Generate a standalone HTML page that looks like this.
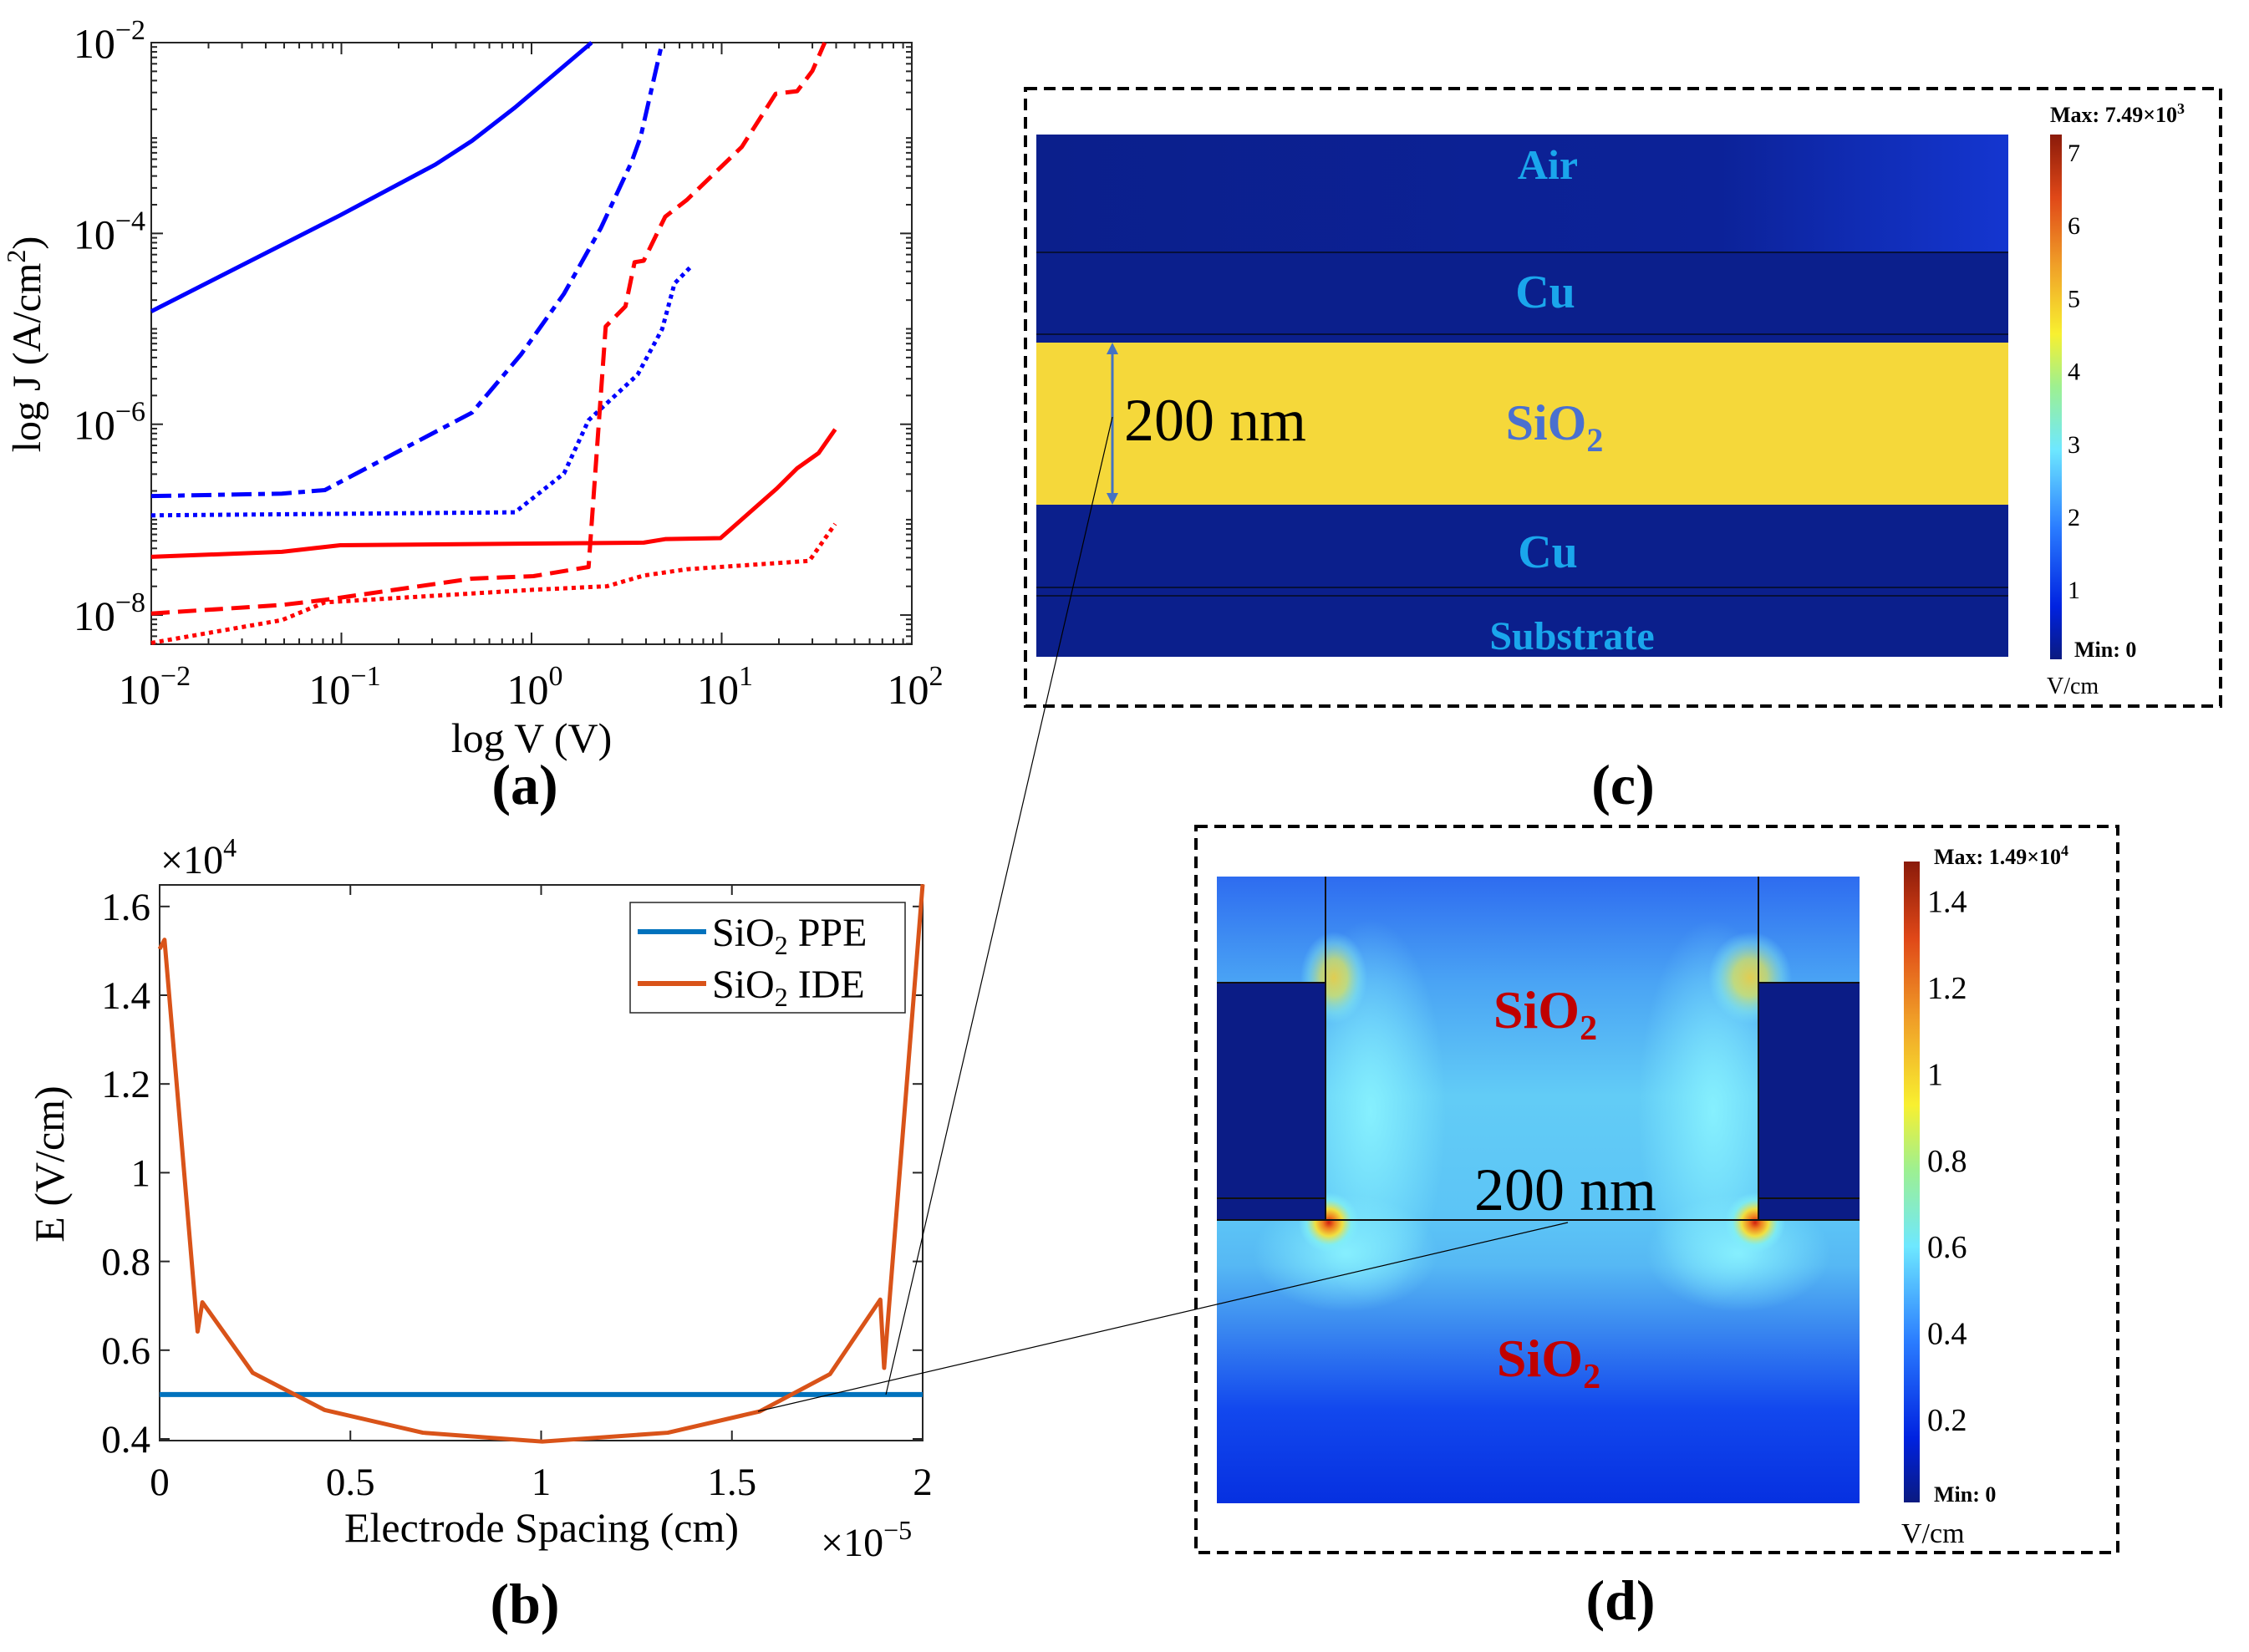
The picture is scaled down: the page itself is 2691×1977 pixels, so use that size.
<!DOCTYPE html>
<html><head><meta charset="utf-8"><style>
html,body{margin:0;padding:0;background:#fff}
svg{display:block}
text{font-family:"Liberation Serif",serif}
</style></head><body>
<svg id="fig" width="2691" height="1977" viewBox="0 0 2691 1977" xmlns="http://www.w3.org/2000/svg">
<defs>
<linearGradient id="cbar" x1="0" y1="1" x2="0" y2="0">
<stop offset="0" stop-color="#0a1a80"/><stop offset="0.1" stop-color="#0022e0"/><stop offset="0.25" stop-color="#2a7cff"/>
<stop offset="0.4" stop-color="#6ee8ff"/><stop offset="0.52" stop-color="#9ef090"/><stop offset="0.62" stop-color="#f8f030"/>
<stop offset="0.75" stop-color="#f0a028"/><stop offset="0.88" stop-color="#e04818"/><stop offset="1" stop-color="#8a1a0a"/>
</linearGradient>
<linearGradient id="airg" x1="0" y1="0" x2="1" y2="0">
<stop offset="0" stop-color="#0b1f8c"/><stop offset="0.7" stop-color="#0c2298"/><stop offset="1" stop-color="#1436d0"/>
</linearGradient>
<linearGradient id="dbg" x1="0" y1="0" x2="0" y2="1">
<stop offset="0" stop-color="#2e6cf0"/><stop offset="0.17" stop-color="#4aa4f4"/><stop offset="0.35" stop-color="#62ccf6"/>
<stop offset="0.55" stop-color="#5cc4f6"/><stop offset="0.62" stop-color="#56b8f4"/><stop offset="0.72" stop-color="#3a88f0"/>
<stop offset="0.85" stop-color="#1248ee"/><stop offset="1" stop-color="#0630e0"/>
</linearGradient>
<radialGradient id="hot"><stop offset="0" stop-color="#d02010"/><stop offset="0.2" stop-color="#f08020"/><stop offset="0.45" stop-color="#f0e040"/><stop offset="0.75" stop-color="#80f0f0" stop-opacity="0.7"/><stop offset="1" stop-color="#80f0ff" stop-opacity="0"/></radialGradient>
<radialGradient id="warm"><stop offset="0" stop-color="#f0d040" stop-opacity="0.9"/><stop offset="0.4" stop-color="#e8e850" stop-opacity="0.7"/><stop offset="0.75" stop-color="#90f0e0" stop-opacity="0.4"/><stop offset="1" stop-color="#80f0ff" stop-opacity="0"/></radialGradient>
<radialGradient id="cy"><stop offset="0" stop-color="#8af4ff" stop-opacity="0.9"/><stop offset="1" stop-color="#8af4ff" stop-opacity="0"/></radialGradient>
</defs>

<!-- Panel (a) -->
<g id="pa">
<rect x="181" y="51" width="910" height="720" fill="#fff" stroke="#262626" stroke-width="2"/>
<g id="pa-ticks"></g>
<g id="pa-lines"></g>
<text x="48" y="412" font-size="48" text-anchor="middle" transform="rotate(-90 48 412)">log J (A/cm<tspan dy="-18" font-size="32">2</tspan><tspan dy="18">)</tspan></text>
<text x="636" y="900" font-size="50" text-anchor="middle">log V (V)</text>
<text x="628" y="962" font-size="68" font-weight="bold" text-anchor="middle">(a)</text>
</g>

<!-- Panel (b) -->
<g id="pb">
<rect x="191" y="1059" width="913" height="665" fill="#fff" stroke="#262626" stroke-width="2"/>
<g id="pb-ticks"></g>
<g id="pb-lines"></g>
<text x="192" y="1045" font-size="48">×10<tspan dy="-20" font-size="32">4</tspan></text>
<text x="982" y="1862" font-size="48">×10<tspan dy="-20" font-size="32">−5</tspan></text>
<text x="76" y="1393" font-size="50" text-anchor="middle" transform="rotate(-90 76 1393)">E (V/cm)</text>
<text x="648" y="1845" font-size="50" text-anchor="middle">Electrode Spacing (cm)</text>
<text x="628" y="1942" font-size="68" font-weight="bold" text-anchor="middle">(b)</text>
<g>
<rect x="754" y="1080" width="329" height="132" fill="#fff" stroke="#262626" stroke-width="1.5"/>
<line x1="763" y1="1115" x2="845" y2="1115" stroke="#0072bd" stroke-width="6"/>
<text x="852" y="1132" font-size="48">SiO<tspan dy="10" font-size="32">2</tspan><tspan dy="-10"> PPE</tspan></text>
<line x1="763" y1="1177" x2="845" y2="1177" stroke="#d95319" stroke-width="6"/>
<text x="852" y="1194" font-size="48">SiO<tspan dy="10" font-size="32">2</tspan><tspan dy="-10"> IDE</tspan></text>
</g>
</g>

<!-- Panel (c) -->
<g id="pc">
<rect x="1227" y="106" width="1430" height="739" fill="none" stroke="#000" stroke-width="4" stroke-dasharray="14 8"/>
<rect x="1240" y="161" width="1163" height="141" fill="url(#airg)"/>
<rect x="1240" y="302" width="1163" height="108" fill="#0b1f8c"/>
<rect x="1240" y="410" width="1163" height="194" fill="#f5d83a"/>
<rect x="1240" y="604" width="1163" height="182" fill="#0b1f8c"/>
<line x1="1240" y1="302" x2="2403" y2="302" stroke="#06103a" stroke-width="2"/>
<line x1="1240" y1="400" x2="2403" y2="400" stroke="#06103a" stroke-width="2"/>
<line x1="1240" y1="703" x2="2403" y2="703" stroke="#06103a" stroke-width="2"/>
<line x1="1240" y1="713" x2="2403" y2="713" stroke="#06103a" stroke-width="2"/>
<text x="1852" y="214" font-size="50" font-weight="bold" fill="#1aa6ec" text-anchor="middle">Air</text>
<text x="1849" y="368" font-size="56" font-weight="bold" fill="#1aa6ec" text-anchor="middle">Cu</text>
<text x="1860" y="526" font-size="60" font-weight="bold" fill="#4a70d0" text-anchor="middle">SiO<tspan dy="14" font-size="40">2</tspan></text>
<text x="1852" y="679" font-size="56" font-weight="bold" fill="#1aa6ec" text-anchor="middle">Cu</text>
<text x="1881" y="777" font-size="48" font-weight="bold" fill="#1aa6ec" text-anchor="middle">Substrate</text>
<line x1="1331" y1="416" x2="1331" y2="598" stroke="#4472c4" stroke-width="3"/>
<path d="M1324,424 L1331,410 L1338,424 Z M1324,590 L1331,604 L1338,590 Z" fill="#4472c4"/>
<text x="1345" y="527" font-size="72">200 nm</text>
<rect x="2453" y="161" width="14" height="628" fill="url(#cbar)"/>
<g id="pc-cb" font-size="30"></g>
<text x="2453" y="146" font-size="26" font-weight="bold">Max: 7.49×10<tspan dy="-10" font-size="18">3</tspan></text>
<text x="2482" y="786" font-size="26" font-weight="bold">Min: 0</text>
<text x="2449" y="830" font-size="28">V/cm</text>
<text x="1942" y="962" font-size="68" font-weight="bold" text-anchor="middle">(c)</text>
</g>

<!-- Panel (d) -->
<g id="pd">
<rect x="1431" y="989" width="1103" height="869" fill="none" stroke="#000" stroke-width="4" stroke-dasharray="14 8"/>
<rect x="1456" y="1049" width="769" height="750" fill="url(#dbg)"/>
<ellipse cx="1640" cy="1330" rx="90" ry="230" fill="url(#cy)"/>
<ellipse cx="2050" cy="1330" rx="90" ry="230" fill="url(#cy)"/>
<ellipse cx="1610" cy="1500" rx="110" ry="70" fill="url(#cy)"/>
<ellipse cx="2080" cy="1500" rx="110" ry="70" fill="url(#cy)"/>
<ellipse cx="1596" cy="1170" rx="40" ry="55" fill="url(#warm)"/>
<ellipse cx="2094" cy="1170" rx="50" ry="55" fill="url(#warm)"/>
<ellipse cx="1590" cy="1463" rx="36" ry="36" fill="url(#hot)"/>
<ellipse cx="2100" cy="1463" rx="36" ry="36" fill="url(#hot)"/>
<rect x="1456" y="1176" width="130" height="284" fill="#0b1c86"/>
<rect x="2104" y="1176" width="121" height="284" fill="#0b1c86"/>
<g stroke="#111" stroke-width="2" fill="none">
<line x1="1586" y1="1049" x2="1586" y2="1460"/><line x1="2104" y1="1049" x2="2104" y2="1460"/>
<line x1="1456" y1="1176" x2="1586" y2="1176"/><line x1="2104" y1="1176" x2="2225" y2="1176"/>
<line x1="1456" y1="1434" x2="1586" y2="1434"/><line x1="2104" y1="1434" x2="2225" y2="1434"/>
<line x1="1456" y1="1460" x2="2225" y2="1460"/>
</g>
<text x="1849" y="1230" font-size="64" font-weight="bold" fill="#c00000" text-anchor="middle">SiO<tspan dy="14" font-size="42">2</tspan></text>
<text x="1853" y="1647" font-size="64" font-weight="bold" fill="#c00000" text-anchor="middle">SiO<tspan dy="14" font-size="42">2</tspan></text>
<text x="1873" y="1448" font-size="72" text-anchor="middle">200 nm</text>
<rect x="2278" y="1031" width="19" height="767" fill="url(#cbar)"/>
<g id="pd-cb" font-size="38"></g>
<text x="2314" y="1034" font-size="26" font-weight="bold">Max: 1.49×10<tspan dy="-10" font-size="18">4</tspan></text>
<text x="2314" y="1797" font-size="26" font-weight="bold">Min: 0</text>
<text x="2275" y="1846" font-size="34">V/cm</text>
<text x="1939" y="1938" font-size="68" font-weight="bold" text-anchor="middle">(d)</text>
</g>

<!-- connectors -->
<line x1="1060" y1="1669" x2="1331" y2="499" stroke="#000" stroke-width="1.2"/>
<line x1="907" y1="1689" x2="1876" y2="1463" stroke="#000" stroke-width="1.2"/>
</svg>
<script>
// ---------- Panel (a) data (log10 values) ----------
const aXTicks=[-2,-1,0,1,2];
const aYTicks=[-2,-4,-6,-8];
const blueSolidV=[-2,-1.006,-0.506,-0.313,-0.087,0.316];
const blueSolidJ=[-4.817,-3.809,-3.278,-3.029,-2.68,-2];
const blueDashDotV=[-2,-1.313,-1.087,-0.313,-0.055,0.171,0.365,0.526,0.574,0.687];
const blueDashDotJ=[-6.753,-6.727,-6.69,-5.878,-5.268,-4.631,-3.942,-3.252,-2.987,-2];
const blueDotV=[-2,-0.087,0.171,0.3,0.558,0.687,0.752,0.842];
const blueDotJ=[-6.955,-6.923,-6.515,-5.958,-5.48,-5.003,-4.525,-4.34];
const redSolidV=[-2,-1.313,-1.006,0.59,0.703,0.994,1.29,1.397,1.51,1.597];
const redSolidJ=[-7.39,-7.337,-7.268,-7.241,-7.204,-7.194,-6.674,-6.462,-6.302,-6.053];
const redDashV=[-2,-1.313,-1.087,-0.313,0.01,0.3,0.39,0.494,0.542,0.59,0.703,0.816,1.106,1.284,1.397,1.477,1.542];
const redDashJ=[-7.984,-7.894,-7.841,-7.618,-7.592,-7.496,-4.976,-4.764,-4.302,-4.286,-3.825,-3.65,-3.093,-2.536,-2.509,-2.297,-2];
const redDotV=[-2,-1.313,-1.087,0.01,0.397,0.59,0.816,1.461,1.597];
const redDotJ=[-8.292,-8.053,-7.867,-7.735,-7.698,-7.586,-7.52,-7.432,-7.045];
// ---------- Panel (b) data ----------
const bXTicks=[0,0.5,1,1.5,2];
const bXLabels=["0","0.5","1","1.5","2"];
const bYTicks=[0.4,0.6,0.8,1.0,1.2,1.4,1.6];
const bYLabels=["0.4","0.6","0.8","1","1.2","1.4","1.6"];
const ideX=[0,0.0128,0.0995,0.112,0.244,0.433,0.69,1.003,1.332,1.573,1.757,1.889,1.899,2.0];
const ideE=[1.504,1.525,0.642,0.708,0.549,0.465,0.414,0.394,0.414,0.462,0.546,0.714,0.56,1.65];
const ppeX=[0,2];
const ppeE=[0.5,0.5];
// ---------- Colorbar ticks ----------
const cTicks=[1,2,3,4,5,6,7];
const dTicks=[0.2,0.4,0.6,0.8,1.0,1.2,1.4];
const dLabels=["0.2","0.4","0.6","0.8","1","1.2","1.4"];

const NS="http://www.w3.org/2000/svg";
function mk(tag,attrs,parent){const e=document.createElementNS(NS,tag);for(const k in attrs)e.setAttribute(k,attrs[k]);parent.appendChild(e);return e;}

// Panel (a) axes
const ax=v=>181+(v+2)*227.5;
const ay=j=>51+(-2-j)*(720/6.306);
const paT=document.getElementById('pa-ticks');
const tickStyle={stroke:"#262626","stroke-width":2};
for(let d=-2;d<2;d++){for(let k=1;k<10;k++){const lv=d+Math.log10(k);const x=ax(lv);const L=k===1?14:7;
 mk('line',Object.assign({x1:x,y1:771,x2:x,y2:771-L},tickStyle),paT);mk('line',Object.assign({x1:x,y1:51,x2:x,y2:51+L},tickStyle),paT);}}
for(let d=-9;d<-2;d++){for(let k=1;k<10;k++){const lv=d+Math.log10(k);if(lv<-8.306||lv>-2)continue;const y=ay(lv);const L=(k===1&&d%2===0)?14:7;
 mk('line',Object.assign({x1:181,y1:y,x2:181+L,y2:y},tickStyle),paT);mk('line',Object.assign({x1:1091,y1:y,x2:1091-L,y2:y},tickStyle),paT);}}
aXTicks.forEach(t=>{const tx=mk('text',{x:ax(t)+4,y:842,"font-size":50,"text-anchor":"middle"},paT);
 
 
 tx.innerHTML='10<tspan dy="-22" font-size="34">'+(t<0?'−':'')+Math.abs(t)+'</tspan>';});
aYTicks.forEach(t=>{const tx=mk('text',{x:174,y:ay(t)+18,"font-size":50,"text-anchor":"end"},paT);
 
 
 tx.innerHTML='10<tspan dy="-22" font-size="34">−'+Math.abs(t)+'</tspan>';});
const paL=document.getElementById('pa-lines');
const aSeries=[[blueSolidV,blueSolidJ,'#0000ff','none','blue-solid-line'],[blueDashDotV,blueDashDotJ,'#0000ff','24 8 8 8','blue-dashdot-line'],
 [blueDotV,blueDotJ,'#0000ff','5 5','blue-dotted-line'],[redSolidV,redSolidJ,'#ff0000','none','red-solid-line'],
 [redDashV,redDashJ,'#ff0000','22 10','red-dashed-line'],[redDotV,redDotJ,'#ff0000','5 5','red-dotted-line']];
aSeries.forEach(s=>{const pts=s[0].map((v,i)=>ax(v)+','+ay(s[1][i])).join(' ');
 const p=mk('polyline',{points:pts,fill:'none',stroke:s[2],'stroke-width':5,'stroke-dasharray':s[3],'stroke-linejoin':'round'},paL);
 
 });

// Panel (b)
const bx=v=>191+v/2*913;
const by=e=>1722-(e-0.4)*531;
const pbT=document.getElementById('pb-ticks');
bXTicks.forEach((t,i)=>{const x=bx(t);mk('line',Object.assign({x1:x,y1:1724,x2:x,y2:1712},tickStyle),pbT);mk('line',Object.assign({x1:x,y1:1059,x2:x,y2:1071},tickStyle),pbT);
 const tx=mk('text',{x:x,y:1789,"font-size":47,"text-anchor":"middle"},pbT);tx.textContent=bXLabels[i];
 
 });
bYTicks.forEach((t,i)=>{const y=by(t);mk('line',Object.assign({x1:191,y1:y,x2:203,y2:y},tickStyle),pbT);mk('line',Object.assign({x1:1104,y1:y,x2:1092,y2:y},tickStyle),pbT);
 const tx=mk('text',{x:180,y:y+16,"font-size":47,"text-anchor":"end"},pbT);tx.textContent=bYLabels[i];
 
 });
const pbL=document.getElementById('pb-lines');
const ppe=mk('polyline',{points:ppeX.map((v,i)=>bx(v)+','+by(ppeE[i])).join(' '),fill:'none',stroke:'#0072bd','stroke-width':6},pbL);


const ide=mk('polyline',{points:ideX.map((v,i)=>bx(v)+','+by(ideE[i])).join(' '),fill:'none',stroke:'#d95319','stroke-width':5,'stroke-linejoin':'round'},pbL);



// Colorbars
const cy=v=>183+(7-v)*87.2;
const pcCb=document.getElementById('pc-cb');
cTicks.forEach(t=>{const tx=mk('text',{x:2474,y:cy(t)+10},pcCb);tx.textContent=String(t);
 
 });
const dy=v=>1699-(v-0.2)*517;
const pdCb=document.getElementById('pd-cb');
dTicks.forEach((t,i)=>{const tx=mk('text',{x:2306,y:dy(t)+13},pdCb);tx.textContent=dLabels[i];
 
 });
</script>
</body></html>
